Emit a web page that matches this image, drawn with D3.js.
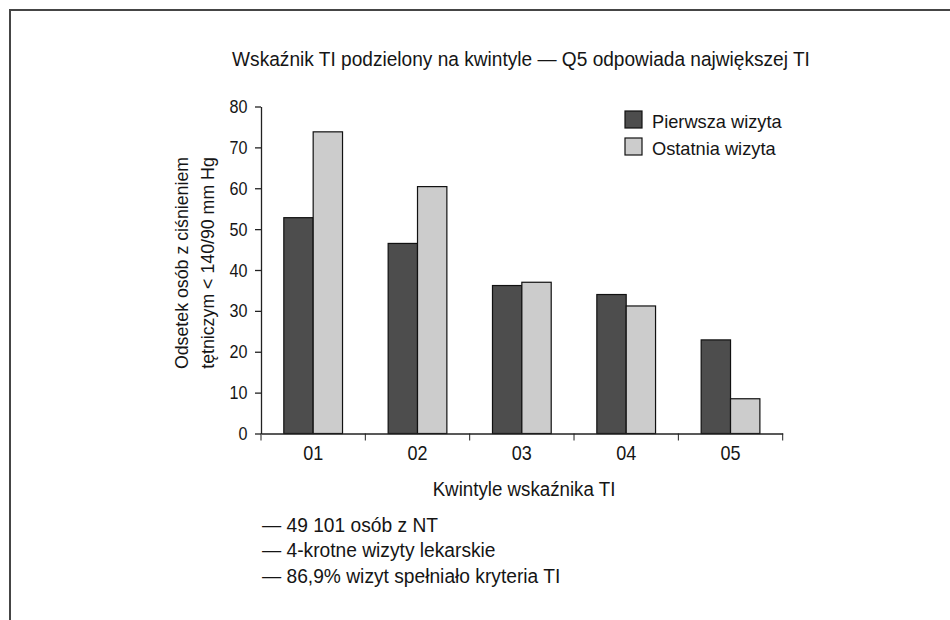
<!DOCTYPE html>
<html>
<head>
<meta charset="utf-8">
<script src="https://cdn.jsdelivr.net/npm/d3@7"></script>
<style>
  body { margin: 0; background: #fff; }
  svg text { font-family: "Liberation Sans", Arial, sans-serif; fill: #151515; }
</style>
</head>
<body>
<script>
// data
let quintiles = ["01", "02", "03", "04", "05"]
let series = ["Pierwsza wizyta", "Ostatnia wizyta"]
let firstVisit = [52.8, 46.5, 36.2, 34.0, 22.9]
let lastVisit = [73.8, 60.4, 37.0, 31.2, 8.5]
let yTicks = [0, 10, 20, 30, 40, 50, 60, 70, 80]
let notes = ["— 49 101 osób z NT", "— 4-krotne wizyty lekarskie", "— 86,9% wizyt spełniało kryteria TI"]
let colors = ["#4d4d4d", "#cccccc"]

let width = 950
let height = 620
// the reference uses a slightly condensed face, digits narrower than letters
let textSqueeze = 0.96
let digitSqueeze = 0.85

let svg = d3.select("body")
            .append("svg")
            .attr("width", width)
            .attr("height", height)

// puts a text at (x,y) and narrows it horizontally
let label = (parent, x, y, str, size, anchor, extra) =>
    parent.append("text")
        .attr("transform", "translate(" + x + "," + y + ")" + (extra || "") + " scale(" + textSqueeze + ",1)")
        .attr("text-anchor", anchor || "start")
        .style("font-size", size + "px")
        .text(str)

// frame, runs off the right and bottom edges
svg.append("rect")
    .attr("x", 10)
    .attr("y", 10)
    .attr("width", 980)
    .attr("height", 700)
    .attr("fill", "none")
    .attr("stroke", "#454545")
    .attr("stroke-width", 2)

label(svg, 521, 66, "Wskaźnik TI podzielony na kwintyle — Q5 odpowiada największej TI", 19.9, "middle")

let x0 = d3.scaleBand()
            .domain(quintiles)
            .range([261, 782.7])

let x1 = d3.scaleBand()
            .domain(series)
            .range([0, x0.bandwidth()])
            .paddingOuter(0.777)

let y = d3.scaleLinear()
            .domain([0, 80])
            .range([433.5, 106.5])

let rows = quintiles.map((q, i) => ({q: q, values: [firstVisit[i], lastVisit[i]]}))

let groups = svg.selectAll("g.group")
                .data(rows)
                .enter()
                .append("g")
                .attr("class", "group")
                .attr("transform", d => "translate(" + x0(d.q) + ",0)")

groups.selectAll("rect")
    .data(d => d.values.map((v, i) => ({s: series[i], v: v, c: colors[i]})))
    .enter()
    .append("rect")
    .attr("x", d => x1(d.s))
    .attr("width", x1.bandwidth())
    .attr("y", d => y(d.v))
    .attr("height", d => y(0) - y(d.v))
    .attr("fill", d => d.c)
    .attr("stroke", "#111")
    .attr("stroke-width", 1.2)

// y axis
let yAxis = d3.axisLeft(y)
                .tickValues(yTicks)
                .tickSize(6)
                .tickSizeOuter(0)
                .tickPadding(10)

let gy = svg.append("g")
    .attr("transform", "translate(261,0)")
    .call(yAxis)
gy.selectAll("text")
    .style("font-size", "19px")
    .attr("fill", "#151515")
    .attr("transform", "scale(" + digitSqueeze + ",1)")

// x axis: labels centred, ticks at band edges
let xAxis = d3.axisBottom(x0)
                .tickSize(0)
                .tickSizeOuter(0)
                .tickPadding(12)

let gx = svg.append("g")
    .attr("transform", "translate(0," + y(0) + ")")
    .call(xAxis)
gx.selectAll("text")
    .style("font-size", "20px")
    .attr("fill", "#151515")
    .attr("transform", "scale(0.9,1)")

let edges = quintiles.map(q => x0(q)).concat([x0.range()[1]])
gx.selectAll("line.edge")
    .data(edges)
    .enter()
    .append("line")
    .attr("class", "edge")
    .attr("x1", d => d)
    .attr("x2", d => d)
    .attr("y1", 0)
    .attr("y2", 7)
    .attr("stroke", "#222")

svg.selectAll(".domain, .tick line").attr("stroke", "#222").attr("stroke-width", 1.3)

label(svg, 524, 496, "Kwintyle wskaźnika TI", 19.5, "middle")

// y title, two lines
let yTitle = label(svg, 188, 263, null, 18.5, "middle", " rotate(-90)")
yTitle.append("tspan").attr("x", 0).attr("y", 0).text("Odsetek osób z ciśnieniem")
yTitle.append("tspan").attr("x", 0).attr("y", 26).text("tętniczym < 140/90 mm Hg")

// legend
let legend = svg.append("g")
                .attr("transform", "translate(625,111)")

legend.selectAll("rect")
    .data(series)
    .enter()
    .append("rect")
    .attr("x", 0)
    .attr("y", (d, i) => i * 27)
    .attr("width", 17)
    .attr("height", 17)
    .attr("fill", (d, i) => colors[i])
    .attr("stroke", "#111")
    .attr("stroke-width", 1.2)

series.forEach((s, i) => label(legend, 27, i * 27 + 17, s, 19))

// notes under the chart
notes.forEach((n, i) => label(svg, 262, 532 + i * 25.3, n, 20))
</script>
</body>
</html>
